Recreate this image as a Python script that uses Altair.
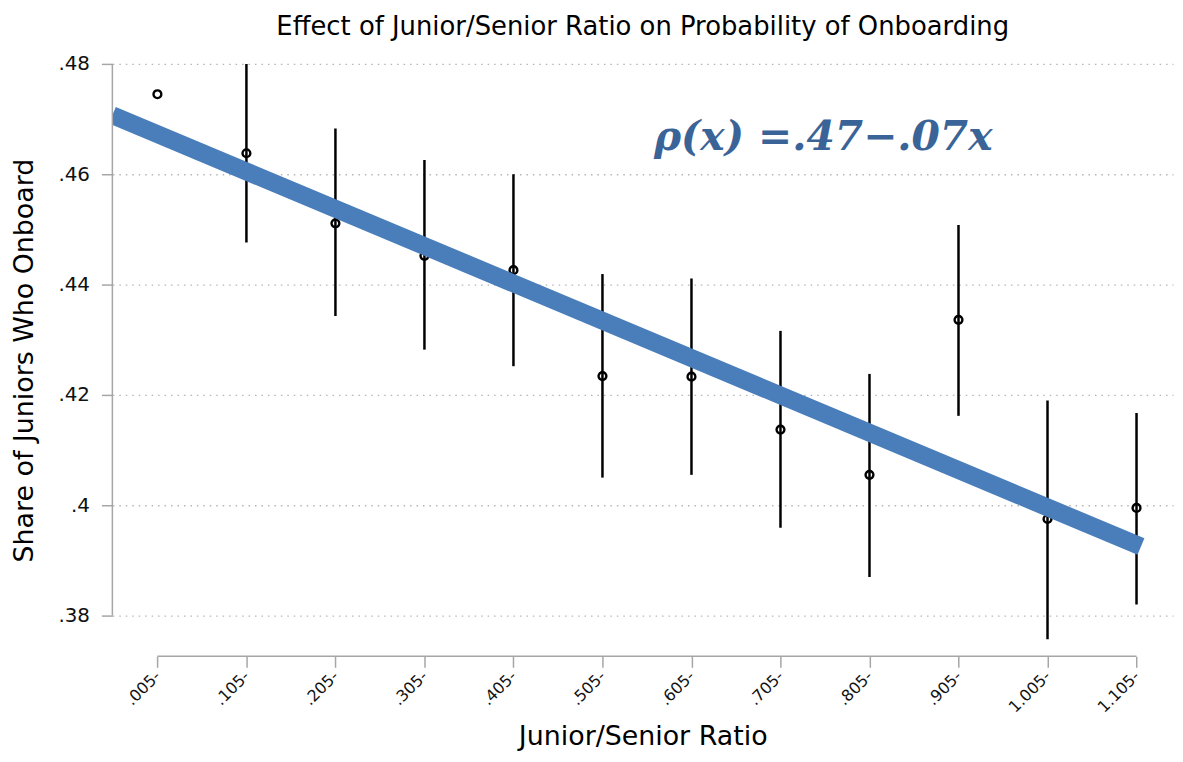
import altair as alt
import pandas as pd
import numpy as np

# ---- data ----
bin_start = [0.005, 0.105, 0.205, 0.305, 0.405, 0.505, 0.605, 0.705, 0.805, 0.905, 1.005, 1.105]
tick_labels = [".005-", ".105-", ".205-", ".305-", ".405-", ".505-", ".605-", ".705-",
               ".805-", ".905-", "1.005-", "1.105-"]
share = [0.4745, 0.4638, 0.4511, 0.4452, 0.4426, 0.4234, 0.4233, 0.4137, 0.4055, 0.4336, 0.3975, 0.3995]
ci_low = [np.nan, 0.4476, 0.4343, 0.4282, 0.4252, 0.4050, 0.4055, 0.3959, 0.3870, 0.4162, 0.3757, 0.3820]
ci_high = [np.nan, 0.4800, 0.4683, 0.4626, 0.4600, 0.4419, 0.4411, 0.4316, 0.4238, 0.4508, 0.4190, 0.4167]

fit_x = [-0.0456, 1.11]
fit_y = [0.4707, 0.3925]

y_ticks = [0.38, 0.40, 0.42, 0.44, 0.46, 0.48]
y_tick_labels = [".38", ".4", ".42", ".44", ".46", ".48"]

x_domain = [-0.0456, 1.146]
y_domain = [0.3726, 0.48]

formula_text = "ρ(x) =.47−.07x"
formula_pos = {"x": 0.753, "y": 0.4665}

FONT = "DejaVu Sans"
AXIS_GRAY = "#a6a6a6"

df = pd.DataFrame({"x": bin_start, "share": share, "lo": ci_low, "hi": ci_high})
err_df = df.dropna()
fit_df = pd.DataFrame({"x": fit_x, "y": fit_y})

x_label_expr = "[" + ",".join(f"'{t}'" for t in tick_labels) + "][round((datum.value-0.005)*10)]"
y_label_expr = "[" + ",".join(f"'{t}'" for t in y_tick_labels) + "][round((datum.value-0.38)*50)]"

x_scale = alt.Scale(domain=x_domain, nice=False, zero=False)
y_scale = alt.Scale(domain=y_domain, nice=False, zero=False)

x_axis = alt.Axis(
    values=bin_start, labelExpr=x_label_expr, labelAngle=-45, labelAlign="right",
    labelBaseline="middle", labelFontSize=16, labelFont=FONT, labelColor="#111111",
    labelPadding=6, tickSize=11, tickColor=AXIS_GRAY, tickWidth=1.5, domain=False,
    grid=False, title="Junior/Senior Ratio", titleFont=FONT, titleFontSize=27,
    titleFontWeight="normal", titleColor="black", titleY=81, titleBaseline="middle",
    labelFlush=False, labelOverlap=False,
)
y_axis = alt.Axis(
    values=y_ticks, labelExpr=y_label_expr, labelFontSize=20, labelFont=FONT,
    labelColor="#111111", labelPadding=12, tickSize=11, tickColor=AXIS_GRAY, tickWidth=1.5,
    domain=False, grid=True, gridColor="#b5b5b5", gridDash=[1.5, 5], gridWidth=1.3,
    title="Share of Juniors Who Onboard", titleFont=FONT, titleFontSize=27,
    titleFontWeight="normal", titleColor="black", titleX=-88, titleBaseline="middle",
    labelFlush=False, labelOverlap=False,
)

points = alt.Chart(df).mark_point(
    shape="circle", filled=False, color="black", strokeWidth=2.4, size=62, opacity=1, clip=True
).encode(
    x=alt.X("x:Q", scale=x_scale, axis=x_axis),
    y=alt.Y("share:Q", scale=y_scale, axis=y_axis),
)

bars = alt.Chart(err_df).mark_rule(color="black", strokeWidth=2.5, clip=True).encode(
    x=alt.X("x:Q", scale=x_scale, axis=x_axis),
    y=alt.Y("lo:Q", scale=y_scale, axis=y_axis),
    y2="hi:Q",
)

fit = alt.Chart(fit_df).mark_line(color="#4A7EBB", strokeWidth=18, strokeCap="butt", clip=True).encode(
    x=alt.X("x:Q", scale=x_scale, axis=x_axis),
    y=alt.Y("y:Q", scale=y_scale, axis=y_axis),
)

x_axis_line = alt.Chart(pd.DataFrame({"x": [bin_start[0]], "x2": [bin_start[-1]], "y": [y_domain[0]]})).mark_rule(
    color=AXIS_GRAY, strokeWidth=1.5
).encode(
    x=alt.X("x:Q", scale=x_scale, axis=x_axis), x2="x2:Q",
    y=alt.Y("y:Q", scale=y_scale, axis=y_axis),
)
y_axis_line = alt.Chart(pd.DataFrame({"x": [x_domain[0]], "y": [y_ticks[0]], "y2": [y_ticks[-1]]})).mark_rule(
    color=AXIS_GRAY, strokeWidth=1.5
).encode(
    x=alt.X("x:Q", scale=x_scale, axis=x_axis),
    y=alt.Y("y:Q", scale=y_scale, axis=y_axis), y2="y2:Q",
)

formula = alt.Chart(pd.DataFrame({"x": [formula_pos["x"]], "y": [formula_pos["y"]], "t": [formula_text]})).mark_text(
    font="DejaVu Serif", fontSize=41, fontWeight="bold", fontStyle="italic",
    color="#3A6497", align="center", baseline="middle"
).encode(
    x=alt.X("x:Q", scale=x_scale, axis=x_axis),
    y=alt.Y("y:Q", scale=y_scale, axis=y_axis),
    text="t:N",
)

chart = alt.layer(bars, points, fit, x_axis_line, y_axis_line, formula).properties(
    width=1067, height=596,
    title=alt.TitleParams(
        "Effect of Junior/Senior Ratio on Probability of Onboarding",
        font=FONT, fontSize=26, fontWeight="normal", color="black",
        anchor="middle", offset=14,
    ),
    autosize=alt.AutoSizeParams(type="none"),
    padding={"left": 105, "top": 54, "right": 2, "bottom": 94},
).configure_view(stroke=None)

chart.save("out.html", embed_options={"renderer": "svg", "actions": False})
